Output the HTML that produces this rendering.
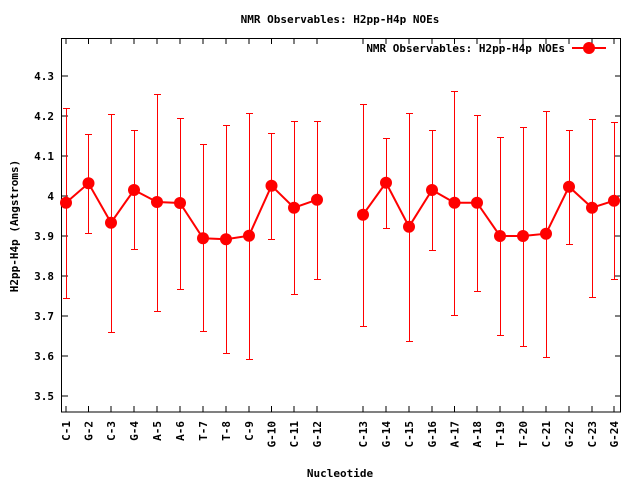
<!DOCTYPE html>
<html><head><meta charset="utf-8"><style>
html,body{margin:0;padding:0;background:#fff;width:640px;height:480px;overflow:hidden}
text{font-family:"DejaVu Sans Mono","Liberation Mono",monospace;font-weight:bold;font-size:11px;fill:#000}
</style></head><body>
<svg width="640" height="480" viewBox="0 0 640 480" xmlns="http://www.w3.org/2000/svg">
<text x="340" y="23" text-anchor="middle">NMR Observables: H2pp-H4p NOEs</text>
<rect x="61.5" y="38.5" width="559" height="373.5" fill="none" stroke="#000" stroke-width="1"/>
<g stroke="#000" stroke-width="1" shape-rendering="crispEdges">
<path d="M62 76H68M62 116H68M62 156H68M62 196H68M62 236H68M62 276H68M62 316H68M62 356H68M62 396H68"/>
<path d="M621 76H615M621 116H615M621 156H615M621 196H615M621 236H615M621 276H615M621 316H615M621 356H615M621 396H615"/>
<path d="M66 412v-6M88.5 412v-6M111 412v-6M134 412v-6M157 412v-6M180 412v-6M203 412v-6M226 412v-6M249 412v-6M271.5 412v-6M294 412v-6M317 412v-6M363 412v-6M386 412v-6M409 412v-6M432 412v-6M454.5 412v-6M477 412v-6M500 412v-6M523 412v-6M546 412v-6M569 412v-6M592 412v-6M614 412v-6"/>
<path d="M66 38v6M88.5 38v6M111 38v6M134 38v6M157 38v6M180 38v6M203 38v6M226 38v6M249 38v6M271.5 38v6M294 38v6M317 38v6M363 38v6M386 38v6M409 38v6M432 38v6M454.5 38v6M477 38v6M500 38v6M523 38v6M546 38v6M569 38v6M592 38v6M614 38v6"/>
</g>
<g text-anchor="end">
<text x="54" y="80">4.3</text><text x="54" y="120">4.2</text><text x="54" y="160">4.1</text><text x="54" y="200">4</text><text x="54" y="240">3.9</text><text x="54" y="280">3.8</text><text x="54" y="320">3.7</text><text x="54" y="360">3.6</text><text x="54" y="400">3.5</text>
</g>
<text transform="translate(18,226) rotate(-90)" text-anchor="middle">H2pp-H4p (Angstroms)</text>
<text x="340" y="477" text-anchor="middle">Nucleotide</text>
<g text-anchor="end">
<text transform="translate(70,421) rotate(-90)">C-1</text>
<text transform="translate(92.5,421) rotate(-90)">G-2</text>
<text transform="translate(115,421) rotate(-90)">C-3</text>
<text transform="translate(138,421) rotate(-90)">G-4</text>
<text transform="translate(161,421) rotate(-90)">A-5</text>
<text transform="translate(184,421) rotate(-90)">A-6</text>
<text transform="translate(207,421) rotate(-90)">T-7</text>
<text transform="translate(230,421) rotate(-90)">T-8</text>
<text transform="translate(253,421) rotate(-90)">C-9</text>
<text transform="translate(275.5,421) rotate(-90)">G-10</text>
<text transform="translate(298,421) rotate(-90)">C-11</text>
<text transform="translate(321,421) rotate(-90)">G-12</text>
<text transform="translate(367,421) rotate(-90)">C-13</text>
<text transform="translate(390,421) rotate(-90)">G-14</text>
<text transform="translate(413,421) rotate(-90)">C-15</text>
<text transform="translate(436,421) rotate(-90)">G-16</text>
<text transform="translate(458.5,421) rotate(-90)">A-17</text>
<text transform="translate(481,421) rotate(-90)">A-18</text>
<text transform="translate(504,421) rotate(-90)">T-19</text>
<text transform="translate(527,421) rotate(-90)">T-20</text>
<text transform="translate(550,421) rotate(-90)">C-21</text>
<text transform="translate(573,421) rotate(-90)">G-22</text>
<text transform="translate(596,421) rotate(-90)">C-23</text>
<text transform="translate(618,421) rotate(-90)">G-24</text>
</g>
<text x="565" y="52" text-anchor="end">NMR Observables: H2pp-H4p NOEs</text>
<g stroke="#f00" stroke-width="2"><path d="M572 48H606"/></g>
<circle cx="589" cy="48" r="6" fill="#f00"/>
<g stroke="#f00" stroke-width="1" fill="none" shape-rendering="crispEdges">
<path d="M66.5 108V298M63 108.5h7M63 298.5h7
M88.5 134V233M85 134.5h7M85 233.5h7
M111.5 114V332M108 114.5h7M108 332.5h7
M134.5 130V249M131 130.5h7M131 249.5h7
M157.5 94V311M154 94.5h7M154 311.5h7
M180.5 118V289M177 118.5h7M177 289.5h7
M203.5 144V331M200 144.5h7M200 331.5h7
M226.5 125V353M223 125.5h7M223 353.5h7
M249.5 113V359M246 113.5h7M246 359.5h7
M271.5 133V239M268 133.5h7M268 239.5h7
M294.5 121V294M291 121.5h7M291 294.5h7
M317.5 121V279M314 121.5h7M314 279.5h7
M363.5 104V326M360 104.5h7M360 326.5h7
M386.5 138V228M383 138.5h7M383 228.5h7
M409.5 113V341M406 113.5h7M406 341.5h7
M432.5 130V250M429 130.5h7M429 250.5h7
M454.5 91V315M451 91.5h7M451 315.5h7
M477.5 115V291M474 115.5h7M474 291.5h7
M500.5 137V335M497 137.5h7M497 335.5h7
M523.5 127V346M520 127.5h7M520 346.5h7
M546.5 111V357M543 111.5h7M543 357.5h7
M569.5 130V244M566 130.5h7M566 244.5h7
M592.5 119V297M589 119.5h7M589 297.5h7
M614.5 122V279M611 122.5h7M611 279.5h7"/>
</g>
<g stroke="#f00" stroke-width="2" fill="none">
<polyline points="66,202.7 88.5,183.3 111,222.7 134,190 157,202 180,203 203,238.3 226,239.3 249,235.7 271.5,185.7 294,207.7 317,199.7"/>
<polyline points="363,214.7 386,182.7 409,226.7 432,190 454.5,202.7 477,202.7 500,236 523,236 546,233.7 569,186.7 592,207.7 614,200.7"/>
</g>
<g fill="#f00">
<circle cx="66" cy="202.7" r="6"/><circle cx="88.5" cy="183.3" r="6"/><circle cx="111" cy="222.7" r="6"/><circle cx="134" cy="190" r="6"/><circle cx="157" cy="202" r="6"/><circle cx="180" cy="203" r="6"/><circle cx="203" cy="238.3" r="6"/><circle cx="226" cy="239.3" r="6"/><circle cx="249" cy="235.7" r="6"/><circle cx="271.5" cy="185.7" r="6"/><circle cx="294" cy="207.7" r="6"/><circle cx="317" cy="199.7" r="6"/>
<circle cx="363" cy="214.7" r="6"/><circle cx="386" cy="182.7" r="6"/><circle cx="409" cy="226.7" r="6"/><circle cx="432" cy="190" r="6"/><circle cx="454.5" cy="202.7" r="6"/><circle cx="477" cy="202.7" r="6"/><circle cx="500" cy="236" r="6"/><circle cx="523" cy="236" r="6"/><circle cx="546" cy="233.7" r="6"/><circle cx="569" cy="186.7" r="6"/><circle cx="592" cy="207.7" r="6"/><circle cx="614" cy="200.7" r="6"/>
</g>
</svg>
</body></html>
